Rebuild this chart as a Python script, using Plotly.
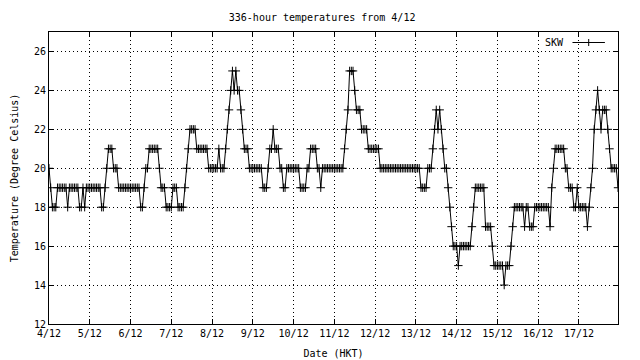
import plotly.graph_objects as go

# ---- data (hourly temperatures, deg C, starting 4/12 00:00) ----
date_labels = ["4/12", "5/12", "6/12", "7/12", "8/12", "9/12", "10/12",
               "11/12", "12/12", "13/12", "14/12", "15/12", "16/12", "17/12"]

day_04 = [20,19,18,18,18,19,19,19,19,19,19,18,19,19,19,19,19,19,18,18,19,18,19,19]
day_05 = [19,19,19,19,19,19,19,18,18,19,20,21,21,21,20,20,20,19,19,19,19,19,19,19]
day_06 = [19,19,19,19,19,19,18,18,19,20,20,21,21,21,21,21,21,20,19,19,19,18,18,18]
day_07 = [18,19,19,19,18,18,18,18,19,20,21,22,22,22,22,21,21,21,21,21,21,21,20,20]
day_08 = [20,20,20,20,21,20,20,20,21,22,23,24,25,24,25,24,24,23,22,21,21,21,20,20]
day_09 = [20,20,20,20,20,20,19,19,19,20,21,21,22,21,21,21,20,20,19,19,20,20,20,20]
day_10 = [20,20,20,20,19,19,19,19,20,20,21,21,21,21,20,20,19,20,20,20,20,20,20,20]
day_11 = [20,20,20,20,20,20,21,22,23,25,25,25,24,23,23,23,22,22,22,22,21,21,21,21]
day_12 = [21,21,21,20,20,20,20,20,20,20,20,20,20,20,20,20,20,20,20,20,20,20,20,20]
day_13 = [20,20,20,19,19,19,19,20,20,20,21,22,23,22,23,22,21,20,20,19,18,17,16,16]
day_14 = [16,15,16,16,16,16,16,16,16,17,18,19,19,19,19,19,19,17,17,17,17,16,15,15]
day_15 = [15,15,15,15,14,15,15,15,16,17,18,18,18,18,18,18,17,18,18,17,17,17,18,18]
day_16 = [18,18,18,18,18,18,18,17,19,20,21,21,21,21,21,21,20,20,19,19,19,18,18,19]
day_17 = [18,18,18,18,18,17,18,19,20,22,23,24,23,22,23,23,23,22,21,20,20,20,20,19]

temps = (day_04 + day_05 + day_06 + day_07 + day_08 + day_09 + day_10 +
         day_11 + day_12 + day_13 + day_14 + day_15 + day_16 + day_17)
hours = list(range(len(temps)))
day_ticks = [24 * i for i in range(len(date_labels))]
y_ticks = list(range(12, 27, 2))

FONT = "DejaVu Sans Mono"

fig = go.Figure()
fig.add_trace(go.Scatter(
    x=hours, y=temps, mode="lines+markers", name="SKW",
    line=dict(color="black", width=1),
    marker=dict(symbol="cross-thin", size=6, color="black",
                line=dict(color="black", width=1)),
    showlegend=False,
))

axis_common = dict(
    showline=True, linecolor="black", linewidth=1, mirror="ticks",
    ticks="inside", ticklen=5, tickcolor="black", tickwidth=1,
    showgrid=True, gridcolor="black", gridwidth=1, griddash="1px,3px",
    zeroline=False, automargin=False,
    tickfont=dict(family=FONT, size=10, color="black"),
)

fig.update_xaxes(range=[0, 335], tickmode="array", tickvals=day_ticks,
                 ticktext=date_labels,
                 title=dict(text="Date (HKT)", font=dict(family=FONT, size=10, color="black"),
                            standoff=11),
                 **axis_common)
fig.update_yaxes(range=[12, 27], tickmode="array", tickvals=y_ticks,
                 ticksuffix=" ",
                 title=dict(text="Temperature (Degree Celsius)",
                            font=dict(family=FONT, size=10, color="black"), standoff=13),
                 **axis_common)

# key (legend) in gnuplot style: text left of sample line
fig.add_annotation(xref="paper", yref="paper", x=0.908, y=0.964, text="SKW",
                   showarrow=False, xanchor="right", yanchor="middle",
                   font=dict(family=FONT, size=10, color="black"))
fig.add_shape(type="line", xref="paper", yref="paper", x0=0.92, x1=0.977,
              y0=0.964, y1=0.964, line=dict(color="black", width=1))
fig.add_shape(type="line", xref="paper", yref="paper", x0=0.9485, x1=0.9485,
              y0=0.952, y1=0.976, line=dict(color="black", width=1))

# the page body adds an 8px offset, so the figure is sized to compensate
fig.update_layout(
    width=632, height=352,
    margin=dict(l=41, r=22, t=24, b=36),
    paper_bgcolor="white", plot_bgcolor="white",
    title=dict(text="336-hour temperatures from 4/12", x=0.497, xanchor="center",
               y=0.974, yanchor="middle",
               font=dict(family=FONT, size=10, color="black")),
    font=dict(family=FONT, size=10, color="black"),
)

fig.write_html("out.html")
